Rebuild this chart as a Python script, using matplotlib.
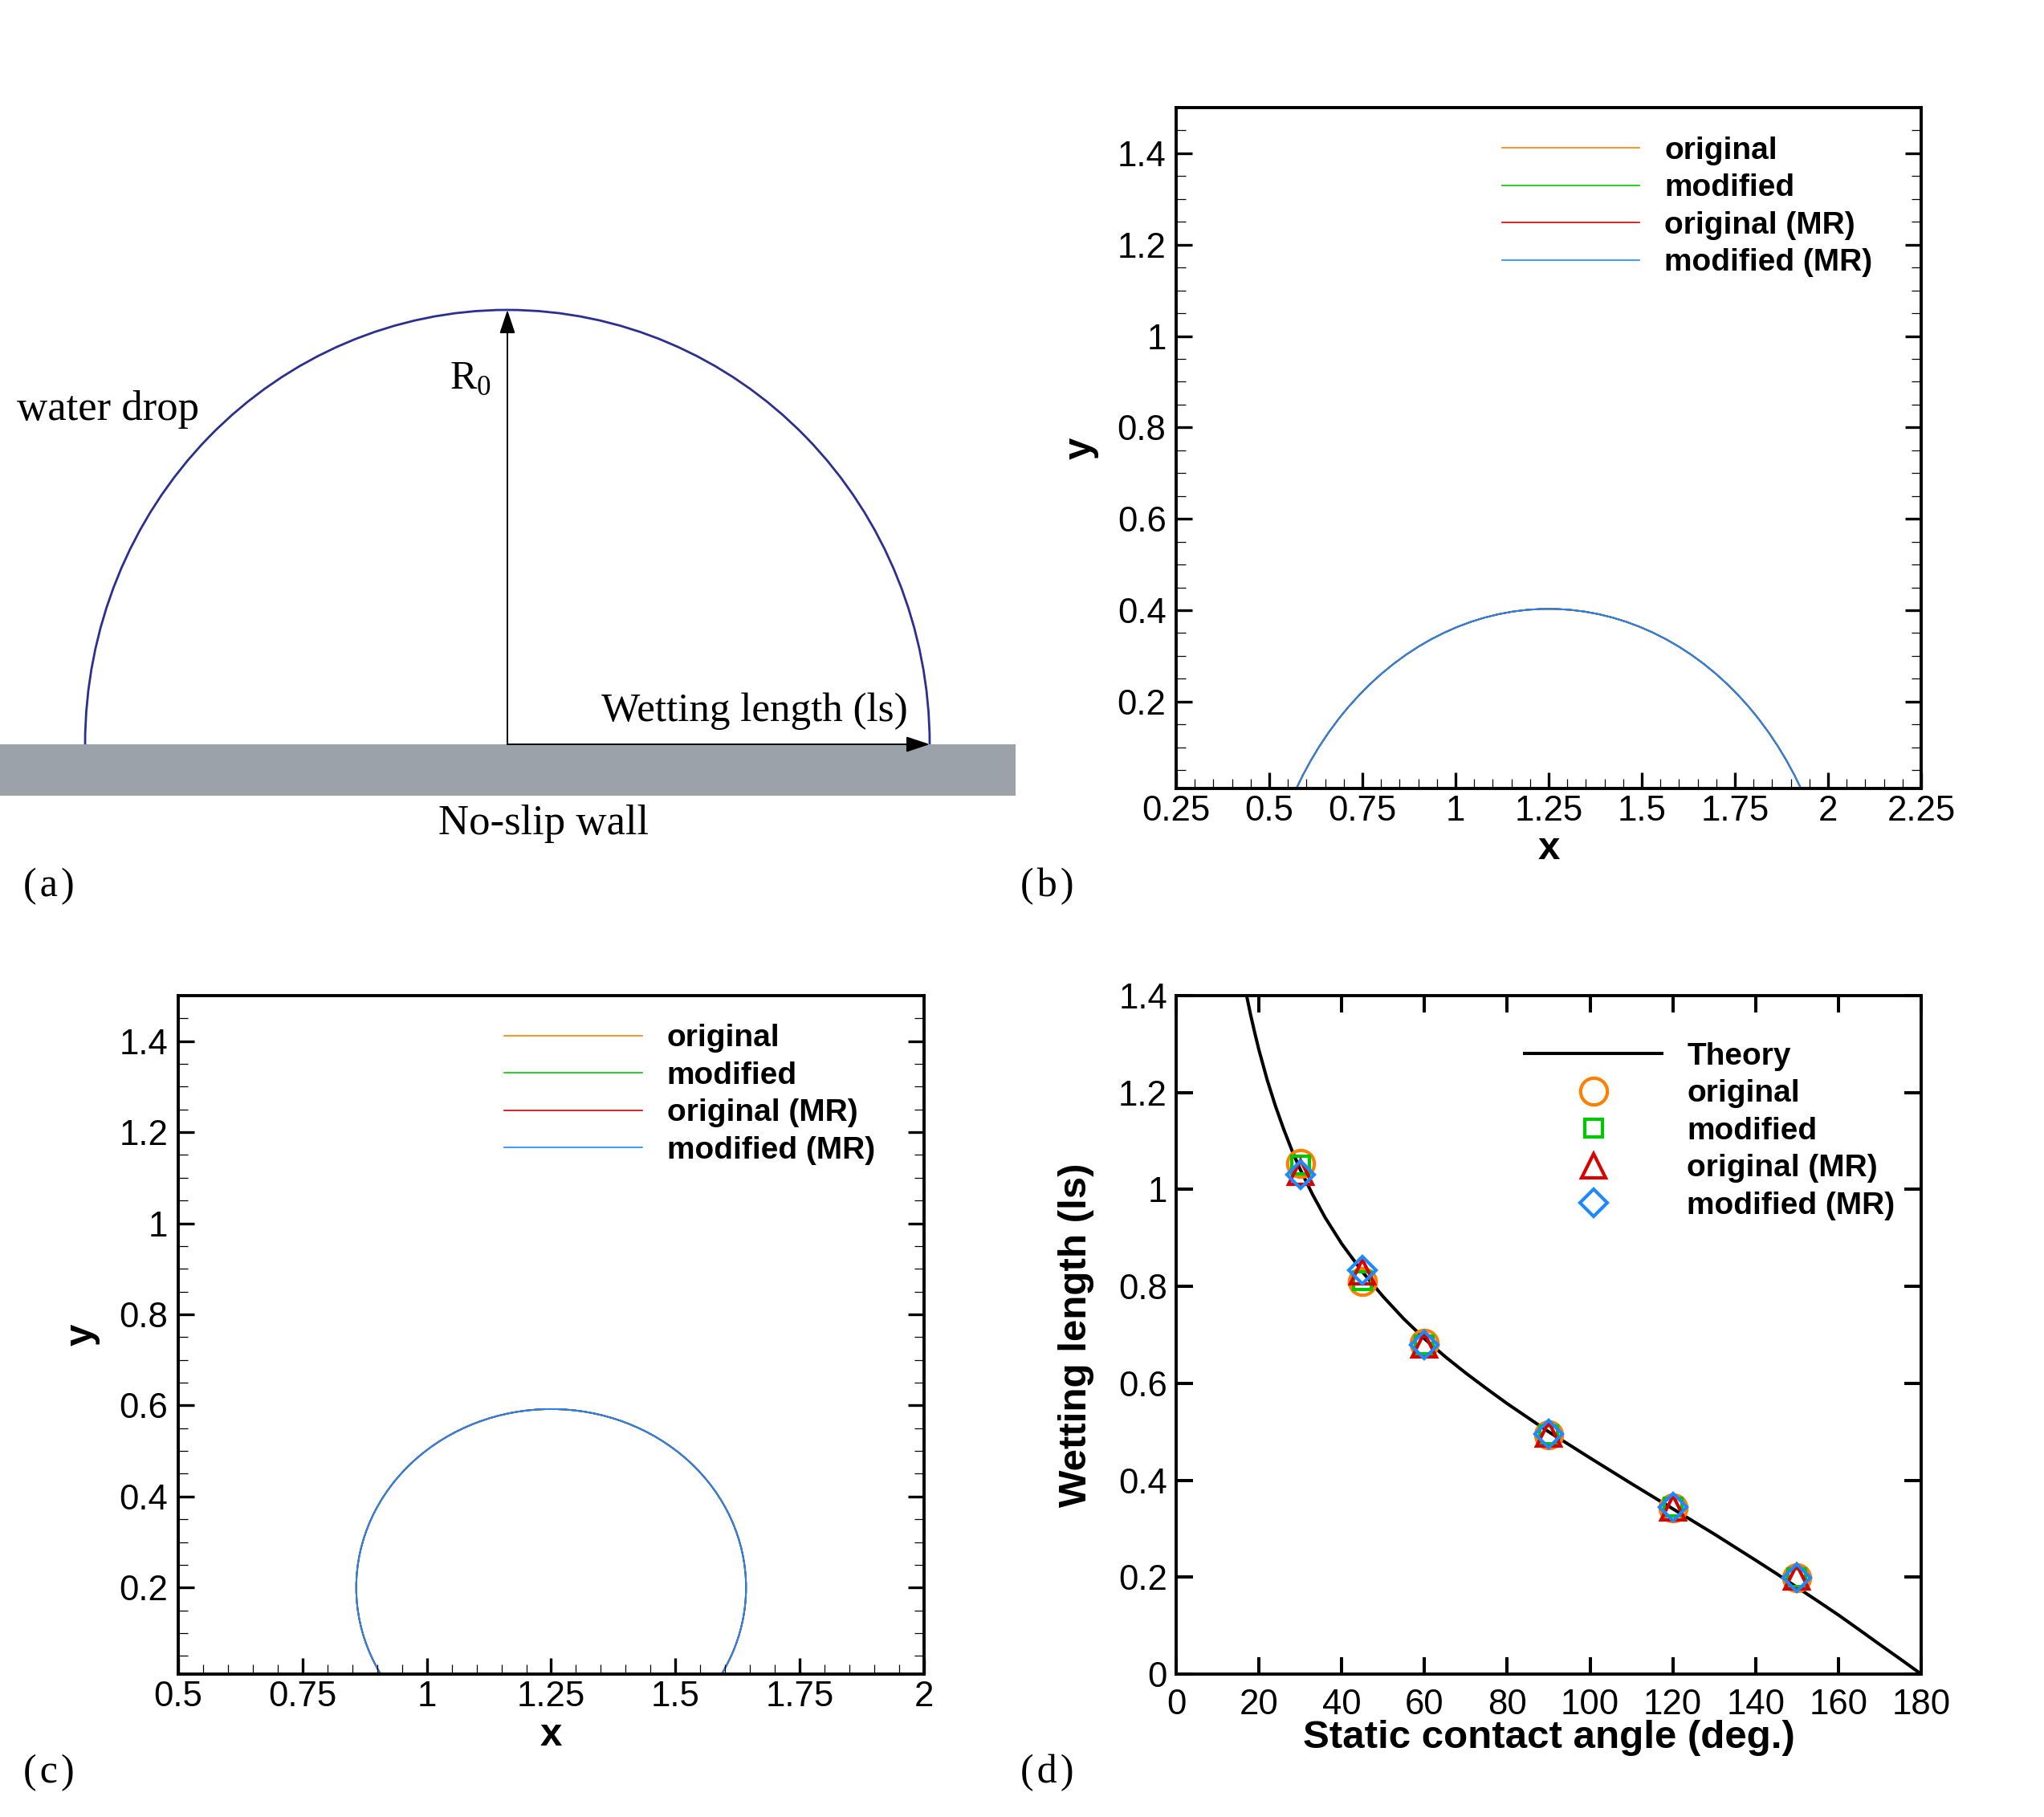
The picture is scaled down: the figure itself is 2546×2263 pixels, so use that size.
import matplotlib
matplotlib.use("Agg")
import matplotlib.pyplot as plt
from matplotlib import patches
from matplotlib.lines import Line2D
from matplotlib.ticker import MultipleLocator, FuncFormatter

plt.rcParams["font.family"] = ["Liberation Sans", "DejaVu Sans"]
plt.rcParams["mathtext.fontset"] = "custom"
plt.rcParams["mathtext.rm"] = "Liberation Serif"

W, H = 2546, 2263

# ---------------- data ----------------
names = ["original", "modified", "original (MR)", "modified (MR)"]
colors = ["#ff8000", "#00c800", "#d80000", "#1e88ff"]
markers = ["o", "s", "^", "D"]
marker_sizes = [24, 16, 22, 17]

# (a) schematic, in picture pixels
wall_x = (0, 1265)
wall_y = (927, 991)
drop_cx = 632
drop_half_width = 526
drop_height = 541

# (b) contact angle 60 deg, (c) contact angle 120 deg: circle centre x, centre y, radius
# the four cases lie on top of each other
profile_b_cx = [1.25, 1.25, 1.25, 1.25]
profile_b_cy = [-0.377, -0.377, -0.377, -0.377]
profile_b_r = [0.780, 0.780, 0.780, 0.780]
profile_c_cx = [1.25, 1.25, 1.25, 1.25]
profile_c_cy = [0.200, 0.200, 0.200, 0.200]
profile_c_r = [0.392, 0.392, 0.392, 0.392]

# (d) wetting length vs static contact angle
theory_angle = [17, 18, 19, 20, 22, 24, 26, 28, 30, 33, 36, 40, 45, 50, 55, 60,
                65, 70, 75, 80, 90, 100, 110, 120, 130, 140, 145, 150, 155, 160,
                165, 170, 175, 180]
theory_ls = [1.401, 1.360, 1.323, 1.288, 1.226, 1.172, 1.124, 1.080, 1.041, 0.989,
             0.942, 0.888, 0.830, 0.779, 0.733, 0.692, 0.655, 0.621, 0.589, 0.558,
             0.500, 0.446, 0.393, 0.341, 0.289, 0.235, 0.2075, 0.179, 0.1507, 0.122,
             0.0917, 0.061, 0.0308, 0.0]
angles = [30, 45, 60, 90, 120, 150]
ls_original = [1.053, 0.810, 0.682, 0.494, 0.343, 0.199]
ls_modified = [1.051, 0.812, 0.680, 0.494, 0.344, 0.199]
ls_original_mr = [1.035, 0.830, 0.679, 0.496, 0.343, 0.200]
ls_modified_mr = [1.031, 0.833, 0.680, 0.496, 0.345, 0.199]
ls_all = [ls_original, ls_modified, ls_original_mr, ls_modified_mr]

# ---------------- figure ----------------
fig = plt.figure(figsize=(W / 100, H / 100), dpi=100)


def px_axes(l, t, r, b):
    return fig.add_axes([l / W, 1 - b / H, (r - l) / W, (b - t) / H])


serif = "Liberation Serif"
bold = dict(family="Liberation Sans", weight="bold", size=35.5)
legend_font = dict(family="Liberation Sans", weight="bold", size=28)
tick_size = 31.5
gfmt = FuncFormatter(lambda v, p: "%g" % round(v, 4))

# ----- (a) -----
ax_a = px_axes(0, 330, 1300, 1060)
ax_a.set_xlim(0, 1300)
ax_a.set_ylim(1060, 330)
ax_a.axis("off")
ax_a.add_patch(patches.Rectangle((wall_x[0], wall_y[0]), wall_x[1] - wall_x[0],
                                 wall_y[1] - wall_y[0], facecolor="#9ca2aa", edgecolor="none"))
ax_a.add_patch(patches.Arc((drop_cx, wall_y[0]), 2 * drop_half_width, 2 * drop_height,
                           theta1=180, theta2=360, color="#2a2f90", lw=2.0))
arrow = dict(arrowstyle="-|>,head_length=0.6,head_width=0.2", color="black", lw=1.4,
             shrinkA=0, shrinkB=0, mutation_scale=30)
ax_a.annotate("", xy=(drop_cx, wall_y[0] - drop_height), xytext=(drop_cx, wall_y[0]),
              arrowprops=arrow)
ax_a.annotate("", xy=(drop_cx + drop_half_width, wall_y[0]), xytext=(drop_cx, wall_y[0]),
              arrowprops=arrow)
ax_a.text(21, 523, "water drop", family=serif, size=38, va="baseline")
ax_a.text(560, 484, r"R$_\mathrm{0}$", family=serif, size=36, va="baseline")
ax_a.text(749, 898, "Wetting length (ls)", family=serif, size=36.8, va="baseline")
ax_a.text(546, 1039, "No-slip wall", family=serif, size=38, va="baseline")


# ----- (b), (c) -----
def style_profile(ax, xmin, xmax):
    ax.set_xlim(xmin, xmax)
    ax.set_ylim(0.01, 1.5)
    ax.xaxis.set_major_locator(MultipleLocator(0.25))
    ax.xaxis.set_minor_locator(MultipleLocator(0.05))
    ax.yaxis.set_major_locator(MultipleLocator(0.2))
    ax.yaxis.set_minor_locator(MultipleLocator(0.05))
    ax.xaxis.set_major_formatter(gfmt)
    ax.yaxis.set_major_formatter(gfmt)
    ax.tick_params(which="both", direction="in", top=False, right=True)
    ax.tick_params(which="major", length=14.5, width=2.4)
    ax.tick_params(which="minor", length=8.5, width=0.9)
    ax.tick_params(axis="x", pad=6, labelsize=tick_size)
    ax.tick_params(axis="y", pad=9, labelsize=tick_size)
    for s in ax.spines.values():
        s.set_linewidth(2.8)
    ax.set_xlabel("x", **bold, va="center")
    ax.set_ylabel("y", **bold, va="center")
    handles = [Line2D([], [], color=c, lw=1.2) for c in colors]
    ax.legend(handles, names, loc="upper left", bbox_to_anchor=(0.4375, 0.958),
              frameon=False, prop=legend_font,
              handlelength=4.4, handletextpad=0.8, labelspacing=0.27,
              borderpad=0, borderaxespad=0)


ax_b = px_axes(1465, 134, 2393, 982)
for cx, cy, r, c in zip(profile_b_cx, profile_b_cy, profile_b_r, colors):
    ax_b.add_patch(patches.Circle((cx, cy), r, fill=False, edgecolor=c, lw=1.4))
style_profile(ax_b, 0.25, 2.25)
ax_b.xaxis.set_label_coords(0.5, -0.089)
ax_b.yaxis.set_label_coords(-0.128, 0.5)

ax_c = px_axes(222, 1240, 1151, 2085)
for cx, cy, r, c in zip(profile_c_cx, profile_c_cy, profile_c_r, colors):
    ax_c.add_patch(patches.Circle((cx, cy), r, fill=False, edgecolor=c, lw=1.4))
style_profile(ax_c, 0.5, 2.0)
ax_c.xaxis.set_label_coords(0.5, -0.091)
ax_c.yaxis.set_label_coords(-0.129, 0.5)

# ----- (d) -----
ax_d = px_axes(1465, 1240, 2393, 2085)
ax_d.plot(theory_angle, theory_ls, color="black", lw=2.9, label="Theory")
for ls, name, c, m, ms in zip(ls_all, names, colors, markers, marker_sizes):
    ax_d.plot(angles, ls, linestyle="none", marker=m, ms=ms, mfc="none", mec=c,
              mew=3.0, label=name)
ax_d.set_xlim(0, 180)
ax_d.set_ylim(0, 1.4)
ax_d.xaxis.set_major_locator(MultipleLocator(20))
ax_d.yaxis.set_major_locator(MultipleLocator(0.2))
ax_d.xaxis.set_major_formatter(gfmt)
ax_d.yaxis.set_major_formatter(gfmt)
ax_d.tick_params(direction="in", top=True, right=True, length=15, width=2.9)
ax_d.tick_params(axis="x", pad=13, labelsize=tick_size)
ax_d.tick_params(axis="y", pad=8, labelsize=tick_size)
for s in ax_d.spines.values():
    s.set_linewidth(2.8)
ax_d.set_xlabel("Static contact angle (deg.)", **bold, va="center")
ax_d.set_ylabel("Wetting length (ls)", **bold, va="center")
ax_d.xaxis.set_label_coords(0.5, -0.0935)
ax_d.yaxis.set_label_coords(-0.134, 0.5)
ax_d.legend(loc="upper left", bbox_to_anchor=(0.4677, 0.9315), frameon=False,
            prop=legend_font, numpoints=1,
            handlelength=4.4, handletextpad=0.8, labelspacing=0.27,
            borderpad=0, borderaxespad=0)

# panel tags
for tag, x, y in [("(a)", 29, 1104), ("(b)", 1271, 1104), ("(c)", 29, 2208), ("(d)", 1271, 2208)]:
    fig.text(x / W, 1 - y / H, tag.replace("(", "(\u200a").replace(")", "\u200a)"),
             family=[serif, "DejaVu Serif"], size=36, va="center", ha="left")

fig.savefig("out.png", dpi=100)
